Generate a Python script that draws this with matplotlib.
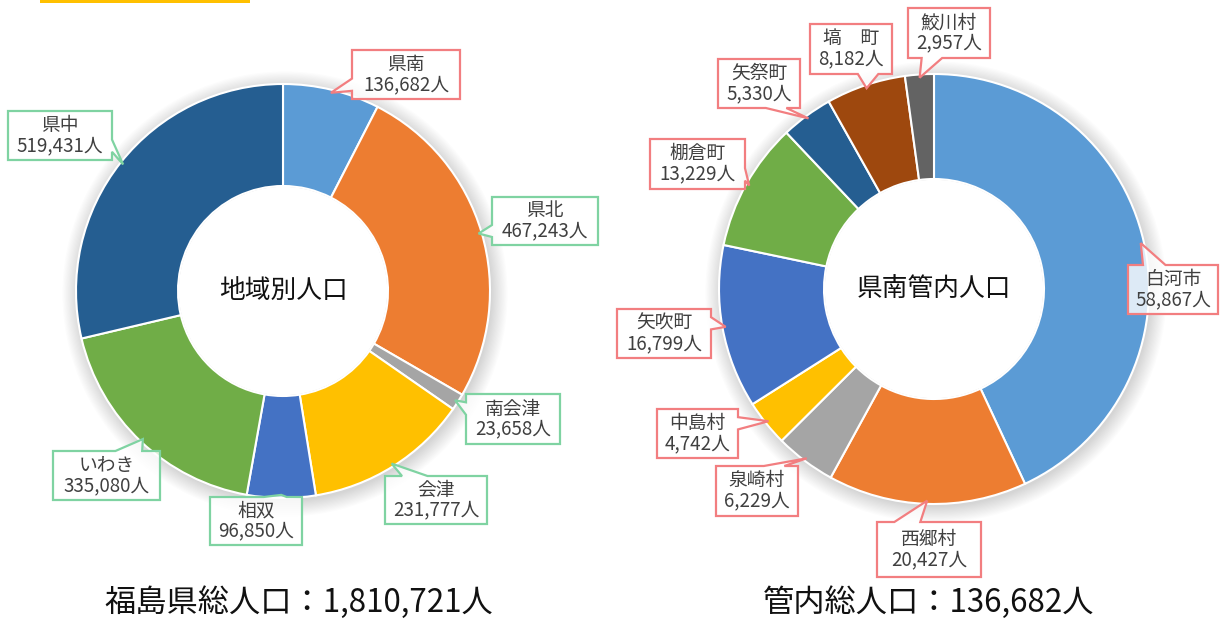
import matplotlib
matplotlib.use("Agg")
import matplotlib.pyplot as plt
from matplotlib.patches import Polygon, Circle, Rectangle
import numpy as np

plt.rcParams['font.family'] = ['Noto Sans CJK JP', 'DejaVu Sans']

# ---------------- data ----------------
left_names = ["県南", "県北", "南会津", "会津", "相双", "いわき", "県中"]
left_values = [136682, 467243, 23658, 231777, 96850, 335080, 519431]
left_colors = ["#5B9BD5", "#ED7D31", "#A5A5A5", "#FFC000", "#4472C4", "#70AD47", "#255E91"]
left_title = "地域別人口"
left_total_text = "福島県総人口：1,810,721人"

right_names = ["白河市", "西郷村", "泉崎村", "中島村", "矢吹町", "棚倉町", "矢祭町", "塙　町", "鮫川村"]
right_values = [58867, 20427, 6229, 4742, 16799, 13229, 5330, 8182, 2957]
right_colors = ["#5B9BD5", "#ED7D31", "#A5A5A5", "#FFC000", "#4472C4", "#70AD47", "#255E91", "#9E480E", "#636363"]
right_title = "県南管内人口"
right_total_text = "管内総人口：136,682人"

# ---------------- layout (pixel coordinates, y from top) ----------------
W, H = 1222, 621
GREEN = "#7FD3A2"
RED = "#F27E80"
TEXT = "#404040"

left_geom = dict(cx=283, cy=291, r=207, r_in=105)
right_geom = dict(cx=934, cy=289, r=215, r_in=110)

left_boxes = [(352, 50, 460, 99), (492, 197, 598, 245), (466, 394, 560, 444),
              (385, 476, 487, 524), (210, 497, 302, 545), (53, 451, 160, 500),
              (8, 111, 112, 160)]
left_box_colors = [RED, GREEN, GREEN, GREEN, GREEN, GREEN, GREEN]

right_boxes = [(1128, 265, 1218, 314), (877, 522, 981, 577), (716, 466, 798, 516),
               (657, 409, 738, 458), (617, 309, 711, 358), (650, 139, 745, 189),
               (718, 59, 800, 108), (810, 24, 892, 74), (908, 8, 990, 58)]
right_box_colors = [RED] * 9

fig = plt.figure(figsize=(W / 100, H / 100), dpi=100)
ax = fig.add_axes([0, 0, 1, 1])


def Y(y):
    return H - y


def callout(box, tip, color, text):
    x0, y0, x1, y1 = box
    w, h = x1 - x0, y1 - y0
    bx, by = (x0 + x1) / 2, (y0 + y1) / 2
    dx, dy = tip[0] - bx, tip[1] - by
    if abs(dx) * h > abs(dy) * w:
        if dy > 0:
            ya, yb = y0 + 7 * h / 12, y0 + 10 * h / 12
        else:
            ya, yb = y0 + 2 * h / 12, y0 + 5 * h / 12
        if dx < 0:
            pts = [(x0, y0), (x1, y0), (x1, y1), (x0, y1), (x0, yb), tip, (x0, ya)]
        else:
            pts = [(x0, y0), (x1, y0), (x1, ya), tip, (x1, yb), (x1, y1), (x0, y1)]
    else:
        if dx > 0:
            xa, xb = x0 + 7 * w / 12, x0 + 10 * w / 12
        else:
            xa, xb = x0 + 2 * w / 12, x0 + 5 * w / 12
        if dy < 0:
            pts = [(x0, y0), (xa, y0), tip, (xb, y0), (x1, y0), (x1, y1), (x0, y1)]
        else:
            pts = [(x0, y0), (x1, y0), (x1, y1), (xb, y1), tip, (xa, y1), (x0, y1)]
    pts = [(p[0], Y(p[1])) for p in pts]
    ax.add_patch(Polygon(pts, closed=True, facecolor=(1, 1, 1, 0.8),
                         edgecolor=color, lw=1.6, joinstyle='miter', zorder=6))
    ax.text(bx, Y(by), text, ha='center', va='center', fontsize=13.5,
            color=TEXT, linespacing=0.95, zorder=7)


def draw_donut(names, values, colors, geom, boxes, box_colors, title):
    cx, cy, r, r_in = geom['cx'], geom['cy'], geom['r'], geom['r_in']
    # soft shadow
    for i in range(14):
        ax.add_patch(Circle((cx + 2, Y(cy) - 3), r + i * 1.2, color='black',
                            alpha=0.011, lw=0, zorder=1))
    ax.pie(values, colors=colors, startangle=90, counterclock=False, radius=r,
           center=(cx, Y(cy)),
           wedgeprops=dict(width=r - r_in, edgecolor='white', linewidth=1.5),
           frame=True)
    ax.add_patch(Circle((cx, Y(cy)), r_in - 0.8, color='white', lw=0, zorder=3))
    ax.text(cx, Y(cy), title, ha='center', va='center', fontsize=18.5,
            color='#111111', zorder=5)
    total = float(sum(values))
    cum = 0.0
    for name, v, box, bc in zip(names, values, boxes, box_colors):
        mid = 2 * np.pi * (cum + v / 2) / total
        cum += v
        tip = (cx + 0.985 * r * np.sin(mid), cy - 0.985 * r * np.cos(mid))
        callout(box, tip, bc, f"{name}\n{v:,}人")


draw_donut(left_names, left_values, left_colors, left_geom, left_boxes,
           left_box_colors, left_title)
draw_donut(right_names, right_values, right_colors, right_geom, right_boxes,
           right_box_colors, right_title)

# top yellow frame fragment
ax.add_patch(Rectangle((40, Y(3)), 210, 4, color='#FFC000', lw=0, zorder=2))

ax.text(299, Y(603), left_total_text, ha='center', va='center', fontsize=22.5,
        color='#111111')
ax.text(929, Y(603), right_total_text, ha='center', va='center', fontsize=22.5,
        color='#111111')

ax.set_xlim(0, W)
ax.set_ylim(0, H)
ax.set_aspect('equal')
ax.axis('off')

fig.savefig("out.png", dpi=100, facecolor='white')
